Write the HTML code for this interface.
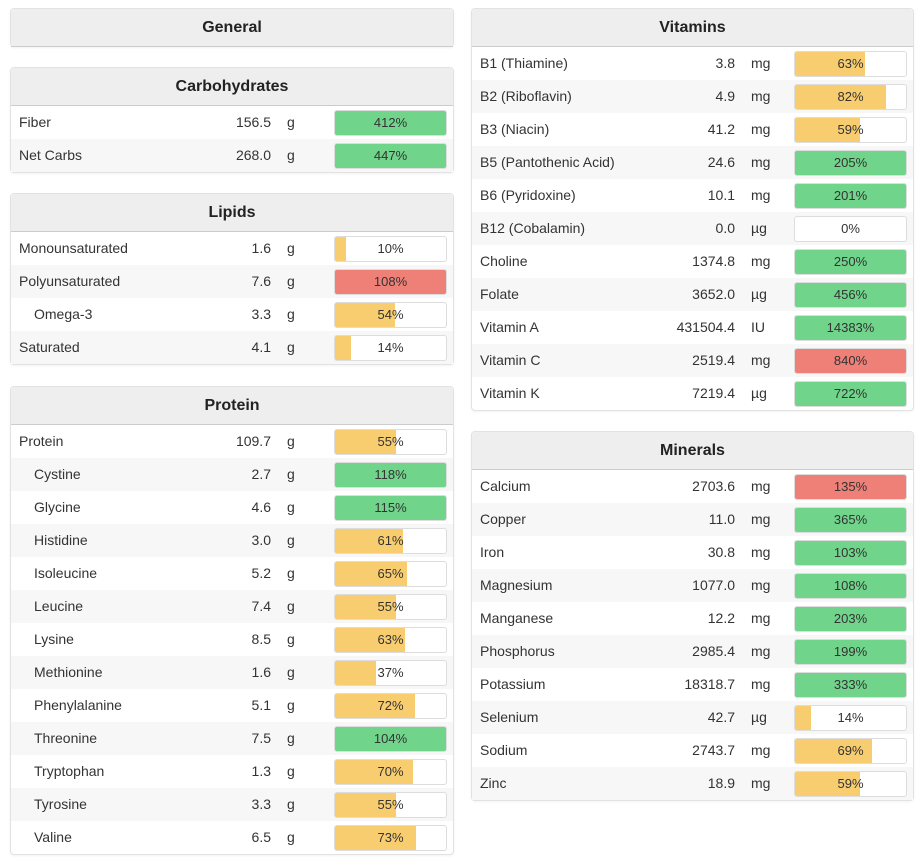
<!DOCTYPE html>
<html><head><meta charset="utf-8">
<style>
body{margin:0;width:923px;height:861px;background:#fff;font-family:"Liberation Sans",sans-serif;color:#333;position:relative;overflow:hidden}
.panel{position:absolute;border:1px solid #e2e2e2;border-radius:4px;background:#fff;box-shadow:0 1px 2px rgba(0,0,0,.05)}
.hdr{height:37px;background:#eee;border-bottom:1px solid #ccc;text-align:center;font-weight:bold;font-size:16px;line-height:37px;color:#222;border-radius:4px 4px 0 0}
.row{position:relative;height:33px;font-size:14px;line-height:33px}
.row:nth-child(even){background:#f7f7f7}
.nm{position:absolute;left:8px}
.val{position:absolute}
.unit{position:absolute}
.bar{position:absolute;top:4px;width:111px;height:24px;border:1px solid #ddd;border-radius:3px;overflow:hidden;background:#fff}
.fill{position:absolute;left:0;top:0;bottom:0}
.pct{position:absolute;left:0;right:0;text-align:center;line-height:24px;font-size:13px}
</style></head><body>
<div class="panel" style="left:10px;top:8px;width:442px;height:37px"><div class="hdr">General</div></div>
<div id="root"></div>
<script>
const carbNames=["Fiber","Net Carbs"],carbVals=["156.5","268.0"],carbUnits=["g","g"],carbPct=[412,447],carbCol=["g","g"];
const lipNames=["Monounsaturated","Polyunsaturated","Omega-3","Saturated"],lipVals=["1.6","7.6","3.3","4.1"],lipUnits=["g","g","g","g"],lipPct=[10,108,54,14],lipCol=["y","r","y","y"],lipInd=[0,0,1,0];
const proNames=["Protein","Cystine","Glycine","Histidine","Isoleucine","Leucine","Lysine","Methionine","Phenylalanine","Threonine","Tryptophan","Tyrosine","Valine"];
const proVals=["109.7","2.7","4.6","3.0","5.2","7.4","8.5","1.6","5.1","7.5","1.3","3.3","6.5"];
const proPct=[55,118,115,61,65,55,63,37,72,104,70,55,73];
const proCol=["y","g","g","y","y","y","y","y","y","g","y","y","y"];
const vitNames=["B1 (Thiamine)","B2 (Riboflavin)","B3 (Niacin)","B5 (Pantothenic Acid)","B6 (Pyridoxine)","B12 (Cobalamin)","Choline","Folate","Vitamin A","Vitamin C","Vitamin K"];
const vitVals=["3.8","4.9","41.2","24.6","10.1","0.0","1374.8","3652.0","431504.4","2519.4","7219.4"];
const vitUnits=["mg","mg","mg","mg","mg","µg","mg","µg","IU","mg","µg"];
const vitPct=[63,82,59,205,201,0,250,456,14383,840,722];
const vitCol=["y","y","y","g","g","y","g","g","g","r","g"];
const minNames=["Calcium","Copper","Iron","Magnesium","Manganese","Phosphorus","Potassium","Selenium","Sodium","Zinc"];
const minVals=["2703.6","11.0","30.8","1077.0","12.2","2985.4","18318.7","42.7","2743.7","18.9"];
const minUnits=["mg","mg","mg","mg","mg","mg","mg","µg","mg","mg"];
const minPct=[135,365,103,108,203,199,333,14,69,59];
const minCol=["r","g","g","g","g","g","g","y","y","y"];
const colors={g:"#70d48b",y:"#f8cd70",r:"#ee8077"};
function panel(title,left,top,width,names,vals,units,pct,col,ind,valEnd,unitX,barX){
  const p=document.createElement('div');p.className='panel';
  
  
  p.style.left=left+'px';p.style.top=top+'px';p.style.width=width+'px';
  const h=document.createElement('div');h.className='hdr';h.textContent=title;
  
  
  p.appendChild(h);
  const body=document.createElement('div');
  names.forEach((n,i)=>{
    const r=document.createElement('div');r.className='row';
    
    
    const ii=(ind&&ind[i])||(title==="Protein"&&i>0)?1:0;
    const w=Math.min(100,pct[i]);
    r.innerHTML='<span class="nm" style="left:'+(8+ii*15)+'px">'+n+'</span><span class="val" style="right:'+(width-valEnd)+'px">'+vals[i]+'</span><span class="unit" style="left:'+unitX+'px">'+units[i]+'</span><div class="bar" style="left:'+barX+'px"><div class="fill" style="width:'+w+'%;background:'+colors[col[i]]+'"></div><div class="pct">'+pct[i]+'%</div></div>';
    r.querySelector('.bar');
    r.querySelector('.bar');
    body.appendChild(r);
  });
  p.appendChild(body);
  document.getElementById('root').appendChild(p);
}
panel("Carbohydrates",10,67,442,carbNames,carbVals,carbUnits,carbPct,carbCol,null,260,276,323);
panel("Lipids",10,193,442,lipNames,lipVals,lipUnits,lipPct,lipCol,lipInd,260,276,323);
panel("Protein",10,386,442,proNames,proVals,proNames.map(()=>"g"),proPct,proCol,null,260,276,323);
panel("Vitamins",471,8,441,vitNames,vitVals,vitUnits,vitPct,vitCol,null,263,279,322);
panel("Minerals",471,431,441,minNames,minVals,minUnits,minPct,minCol,null,263,279,322);
</script>
</body></html>
